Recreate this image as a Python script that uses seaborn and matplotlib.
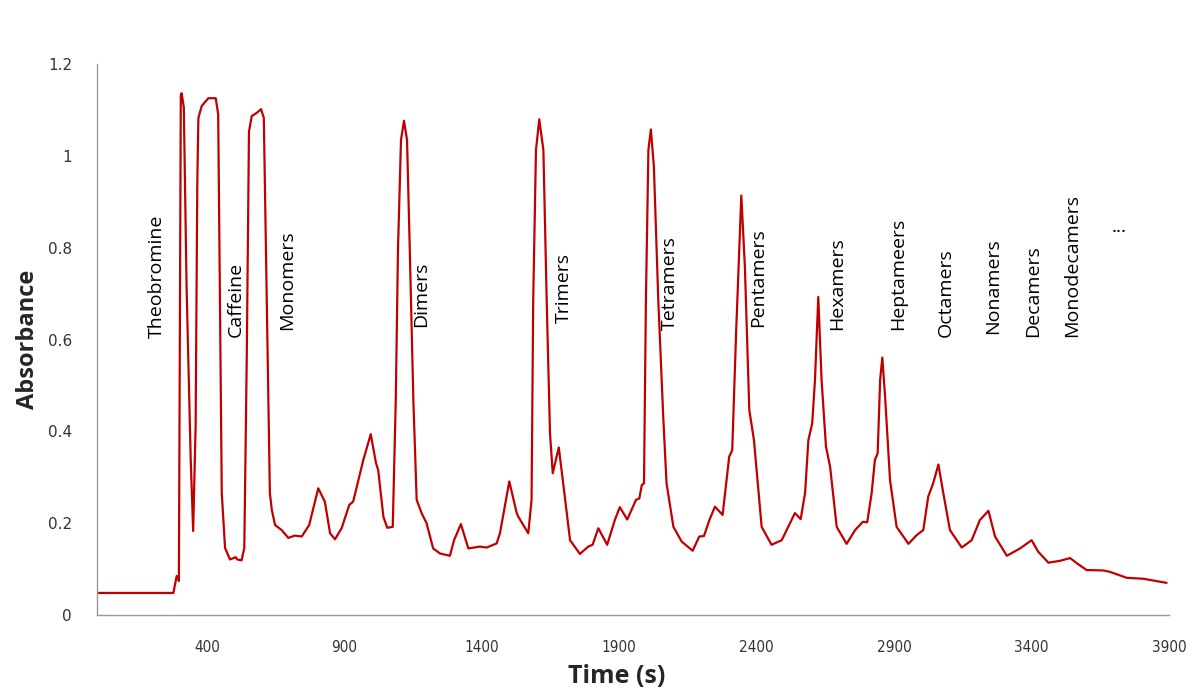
import numpy as np
import pandas as pd
import matplotlib
matplotlib.use("Agg")
import matplotlib.pyplot as plt
import seaborn as sns

# ---- data ----
time_s = [0, 278, 290, 298, 302, 305, 308, 316, 326, 341, 350, 359, 365, 369, 381, 405,
          432, 441, 447, 454, 466, 484, 505, 510, 526, 536, 545, 553, 563, 581, 597, 607,
          617, 629, 636, 648, 672, 696, 720, 745, 772, 805, 829, 848, 866, 890, 918, 932,
          969, 996, 1015, 1023, 1042, 1056, 1076, 1087, 1095, 1106, 1117, 1128, 1138, 1151,
          1163, 1181, 1199, 1223, 1248, 1284, 1299, 1324, 1351, 1393, 1418, 1454, 1466, 1500,
          1527, 1533, 1569, 1581, 1587, 1597, 1609, 1624, 1636, 1648, 1658, 1680, 1696, 1721,
          1757, 1787, 1803, 1824, 1856, 1884, 1902, 1929, 1961, 1973, 1982, 1990, 1997, 2006,
          2015, 2026, 2042, 2060, 2072, 2097, 2127, 2167, 2191, 2208, 2228, 2248, 2276, 2300,
          2311, 2325, 2344, 2357, 2373, 2390, 2418, 2454, 2491, 2509, 2539, 2560, 2576, 2588,
          2602, 2612, 2624, 2636, 2652, 2667, 2691, 2727, 2758, 2786, 2802, 2818, 2830, 2840,
          2849, 2857, 2867, 2885, 2909, 2952, 2982, 3006, 3024, 3042, 3061, 3079, 3103, 3146,
          3182, 3212, 3243, 3267, 3310, 3358, 3400, 3424, 3461, 3503, 3540, 3564, 3600, 3661,
          3685, 3746, 3806, 3891]
absorbance = [0.048, 0.048, 0.085, 0.074, 0.715, 1.132, 1.137, 1.106, 0.715, 0.340, 0.183,
              0.415, 0.940, 1.083, 1.109, 1.126, 1.126, 1.091, 0.715, 0.266, 0.146, 0.121,
              0.126, 0.121, 0.119, 0.146, 0.565, 1.053, 1.087, 1.094, 1.102, 1.083, 0.715,
              0.266, 0.229, 0.196, 0.185, 0.168, 0.173, 0.171, 0.196, 0.276, 0.247, 0.178,
              0.165, 0.189, 0.240, 0.247, 0.338, 0.394, 0.331, 0.316, 0.214, 0.190, 0.192,
              0.468, 0.795, 1.035, 1.077, 1.035, 0.795, 0.468, 0.251, 0.222, 0.200, 0.145,
              0.134, 0.129, 0.163, 0.198, 0.145, 0.149, 0.147, 0.156, 0.178, 0.291, 0.222,
              0.214, 0.178, 0.251, 0.686, 1.013, 1.080, 1.013, 0.686, 0.397, 0.309, 0.365,
              0.287, 0.163, 0.133, 0.149, 0.153, 0.189, 0.153, 0.207, 0.235, 0.208, 0.251,
              0.254, 0.283, 0.287, 0.686, 1.013, 1.058, 0.977, 0.686, 0.432, 0.287, 0.192,
              0.160, 0.140, 0.171, 0.172, 0.207, 0.236, 0.218, 0.345, 0.359, 0.614, 0.914,
              0.759, 0.447, 0.381, 0.192, 0.153, 0.163, 0.185, 0.222, 0.209, 0.266, 0.381,
              0.418, 0.512, 0.693, 0.512, 0.367, 0.323, 0.192, 0.155, 0.185, 0.203, 0.202,
              0.265, 0.338, 0.352, 0.512, 0.561, 0.476, 0.294, 0.192, 0.155, 0.174, 0.185,
              0.258, 0.287, 0.328, 0.265, 0.185, 0.147, 0.163, 0.207, 0.227, 0.171, 0.129,
              0.145, 0.163, 0.138, 0.114, 0.118, 0.124, 0.113, 0.098, 0.097, 0.094, 0.081,
              0.079, 0.070]

peak_labels = ["Theobromine", "Caffeine", "Monomers", "Dimers", "Trimers", "Tetramers",
               "Pentamers", "Hexamers", "Heptameers", "Octamers", "Nonamers", "Decamers",
               "Monodecamers"]
label_x = [218, 506, 691, 1179, 1699, 2085, 2405, 2692, 2914, 3089, 3260, 3405, 3547]
label_y = [0.603, 0.606, 0.621, 0.627, 0.636, 0.621, 0.627, 0.621, 0.621, 0.606, 0.612,
           0.606, 0.606]

x_ticks = [400, 900, 1400, 1900, 2400, 2900, 3400, 3900]
y_ticks = [0, 0.2, 0.4, 0.6, 0.8, 1.0, 1.2]
y_tick_labels = ["0", "0.2", "0.4", "0.6", "0.8", "1", "1.2"]

df = pd.DataFrame({"Time (s)": time_s, "Absorbance": absorbance})

sns.set_style("white")
plt.rcParams["font.family"] = ["Open Sans", "DejaVu Sans"]

fig = plt.figure(figsize=(12, 6.91), dpi=100)
ax = fig.add_axes([0.0808, 0.110, 0.8934, 0.797])

sns.lineplot(data=df, x="Time (s)", y="Absorbance", ax=ax, color="#C00000",
             linewidth=1.6, sort=False)

ax.set_xlim(0, 3900)
ax.set_ylim(0, 1.2)
ax.set_xticks(x_ticks)
ax.set_xticklabels([str(t) for t in x_ticks], fontsize=11, fontstretch="condensed",
                   family=["Liberation Sans Narrow", "DejaVu Sans"], color="#333333")
ax.set_yticks(y_ticks)
ax.set_yticklabels(y_tick_labels, fontsize=11, family=["DejaVu Sans"], color="#333333")

for s in ["top", "right"]:
    ax.spines[s].set_visible(False)
for s in ["left", "bottom"]:
    ax.spines[s].set_color("#9a9a9a")
    ax.spines[s].set_linewidth(1.0)
ax.tick_params(axis="both", direction="out", length=6, width=1.0, color="#9a9a9a")
ax.tick_params(axis="x", pad=12)
ax.tick_params(axis="y", pad=12)

ax.set_xlabel("Time (s)", fontsize=18, fontweight="bold", va="center")
ax.set_ylabel("Absorbance", fontsize=17, fontweight="bold", va="center")
ax.xaxis.set_label_coords(0.485, -0.112)
ax.yaxis.set_label_coords(-0.064, 0.5)

for name, lx, ly in zip(peak_labels, label_x, label_y):
    ax.text(lx, ly, name, rotation=90, ha="center", va="bottom", fontsize=14,
            color="black")
ax.text(3718, 0.845, "...", ha="center", va="center", fontsize=14, color="black")

fig.savefig("out.png", dpi=100, facecolor="white")
